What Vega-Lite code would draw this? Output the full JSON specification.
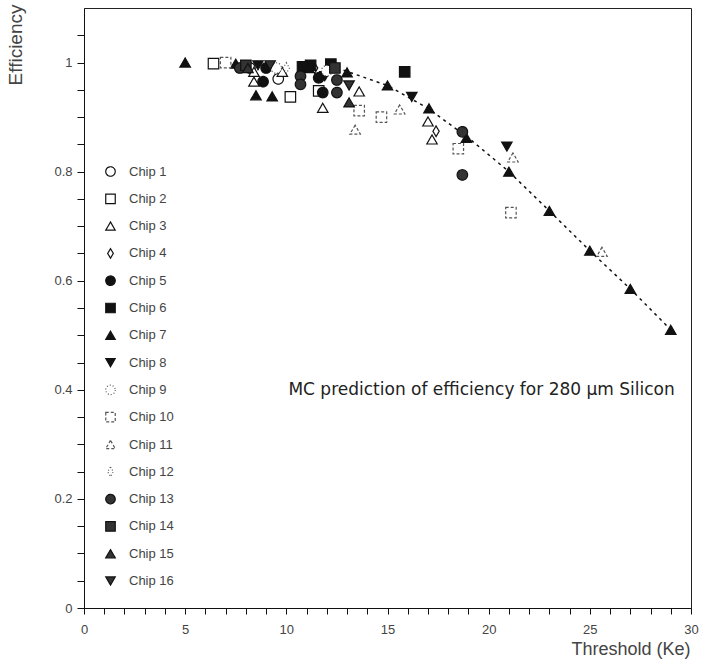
{
  "$schema": "https://vega.github.io/schema/vega-lite/v6.json",
  "width": 607,
  "height": 600,
  "autosize": {"type": "none"},
  "padding": {"left": 84, "top": 8, "right": 10, "bottom": 55},
  "background": "white",
  "config": {
    "view": {"stroke": "#222", "strokeWidth": 1},
    "font": "Liberation Sans",
    "axis": {"grid": false, "domainColor": "#111", "tickColor": "#111", "labelColor": "#444", "labelFontSize": 13, "titleColor": "#444", "titleFontWeight": "normal", "titleFontSize": 18, "labelOverlap": false}
  },
  "datasets": {
    "pts": [
      {"chip": "Chip 1", "threshold": 9.6, "efficiency": 0.97},
      {"chip": "Chip 1", "threshold": 8.2, "efficiency": 0.99},
      {"chip": "Chip 2", "threshold": 6.4, "efficiency": 0.998},
      {"chip": "Chip 2", "threshold": 10.2, "efficiency": 0.937},
      {"chip": "Chip 2", "threshold": 11.6, "efficiency": 0.948},
      {"chip": "Chip 3", "threshold": 8.4, "efficiency": 0.983},
      {"chip": "Chip 3", "threshold": 8.4, "efficiency": 0.965},
      {"chip": "Chip 3", "threshold": 9.8, "efficiency": 0.983},
      {"chip": "Chip 3", "threshold": 11.8, "efficiency": 0.917},
      {"chip": "Chip 3", "threshold": 13.6, "efficiency": 0.947},
      {"chip": "Chip 3", "threshold": 17.0, "efficiency": 0.892},
      {"chip": "Chip 3", "threshold": 17.2, "efficiency": 0.859},
      {"chip": "Chip 4", "threshold": 17.4, "efficiency": 0.874},
      {"chip": "Chip 4", "threshold": 11.4, "efficiency": 0.99},
      {"chip": "Chip 5", "threshold": 8.85, "efficiency": 0.965},
      {"chip": "Chip 5", "threshold": 11.8, "efficiency": 0.945},
      {"chip": "Chip 5", "threshold": 11.6, "efficiency": 0.972},
      {"chip": "Chip 5", "threshold": 9.0, "efficiency": 0.99},
      {"chip": "Chip 6", "threshold": 15.85, "efficiency": 0.983},
      {"chip": "Chip 6", "threshold": 11.2, "efficiency": 0.995},
      {"chip": "Chip 6", "threshold": 12.2, "efficiency": 0.997},
      {"chip": "Chip 6", "threshold": 10.8, "efficiency": 0.992},
      {"chip": "Chip 7", "threshold": 5.0, "efficiency": 1.0},
      {"chip": "Chip 7", "threshold": 7.5, "efficiency": 0.998},
      {"chip": "Chip 7", "threshold": 8.5, "efficiency": 0.94},
      {"chip": "Chip 7", "threshold": 9.3, "efficiency": 0.938},
      {"chip": "Chip 7", "threshold": 11.1, "efficiency": 0.99},
      {"chip": "Chip 7", "threshold": 13.0, "efficiency": 0.982},
      {"chip": "Chip 7", "threshold": 15.0, "efficiency": 0.958},
      {"chip": "Chip 7", "threshold": 17.05, "efficiency": 0.916},
      {"chip": "Chip 7", "threshold": 18.9, "efficiency": 0.862},
      {"chip": "Chip 7", "threshold": 21.0, "efficiency": 0.8},
      {"chip": "Chip 7", "threshold": 23.0, "efficiency": 0.728},
      {"chip": "Chip 7", "threshold": 25.0, "efficiency": 0.655},
      {"chip": "Chip 7", "threshold": 27.0, "efficiency": 0.585},
      {"chip": "Chip 7", "threshold": 29.0, "efficiency": 0.51},
      {"chip": "Chip 8", "threshold": 16.2, "efficiency": 0.937},
      {"chip": "Chip 8", "threshold": 20.9, "efficiency": 0.846},
      {"chip": "Chip 8", "threshold": 11.9, "efficiency": 0.975},
      {"chip": "Chip 8", "threshold": 8.6, "efficiency": 0.995},
      {"chip": "Chip 9", "threshold": 9.5, "efficiency": 0.99},
      {"chip": "Chip 9", "threshold": 12.0, "efficiency": 0.985},
      {"chip": "Chip 10", "threshold": 7.0, "efficiency": 1.0},
      {"chip": "Chip 10", "threshold": 13.6, "efficiency": 0.912},
      {"chip": "Chip 10", "threshold": 14.7, "efficiency": 0.9},
      {"chip": "Chip 10", "threshold": 18.5, "efficiency": 0.842},
      {"chip": "Chip 10", "threshold": 21.1, "efficiency": 0.725},
      {"chip": "Chip 11", "threshold": 13.4, "efficiency": 0.877},
      {"chip": "Chip 11", "threshold": 15.6, "efficiency": 0.914},
      {"chip": "Chip 11", "threshold": 21.2, "efficiency": 0.826},
      {"chip": "Chip 11", "threshold": 25.6, "efficiency": 0.653},
      {"chip": "Chip 12", "threshold": 10.0, "efficiency": 0.99},
      {"chip": "Chip 13", "threshold": 10.7, "efficiency": 0.975},
      {"chip": "Chip 13", "threshold": 10.7, "efficiency": 0.96},
      {"chip": "Chip 13", "threshold": 12.5, "efficiency": 0.968},
      {"chip": "Chip 13", "threshold": 12.5, "efficiency": 0.945},
      {"chip": "Chip 13", "threshold": 18.7, "efficiency": 0.873},
      {"chip": "Chip 13", "threshold": 18.7, "efficiency": 0.794},
      {"chip": "Chip 13", "threshold": 7.7, "efficiency": 0.99},
      {"chip": "Chip 14", "threshold": 8.0, "efficiency": 0.995},
      {"chip": "Chip 14", "threshold": 12.4, "efficiency": 0.99},
      {"chip": "Chip 15", "threshold": 13.1, "efficiency": 0.927},
      {"chip": "Chip 15", "threshold": 8.1, "efficiency": 0.99},
      {"chip": "Chip 16", "threshold": 13.1, "efficiency": 0.958},
      {"chip": "Chip 16", "threshold": 9.2, "efficiency": 0.995}
    ],
    "mc": [
      {"threshold": 12.5, "efficiency": 0.99},
      {"threshold": 15.0, "efficiency": 0.958},
      {"threshold": 17.0, "efficiency": 0.916},
      {"threshold": 19.0, "efficiency": 0.862},
      {"threshold": 21.0, "efficiency": 0.8},
      {"threshold": 23.0, "efficiency": 0.728},
      {"threshold": 25.0, "efficiency": 0.655},
      {"threshold": 27.0, "efficiency": 0.585},
      {"threshold": 29.0, "efficiency": 0.51}
    ],
    "note": [
      {"threshold": 19.65, "efficiency": 0.4, "label": "MC prediction of efficiency for 280 μm Silicon"}
    ]
  },
  "layer": [
    {
      "mark": {"type": "rule", "color": "#111", "strokeWidth": 1.2},
      "encoding": {"y": {"datum": 1, "type": "quantitative", "scale": {"domain": [0, 1.1], "nice": false, "zero": false}}}
    },
    {
      "data": {"name": "mc"},
      "mark": {"type": "line", "color": "#111", "strokeWidth": 1.5, "strokeDash": [3, 4]},
      "encoding": {
        "x": {"field": "threshold", "type": "quantitative"},
        "y": {"field": "efficiency", "type": "quantitative"}
      }
    },
    {
      "data": {"name": "pts"},
      "mark": {"type": "point", "filled": true, "opacity": 1, "strokeWidth": 1.2, "size": 110},
      "encoding": {
        "x": {
          "field": "threshold", "type": "quantitative",
          "scale": {"domain": [0, 30], "nice": false, "zero": false},
          "axis": {
            "title": "Threshold (Ke)",
            "values": [0,1,2,3,4,5,6,7,8,9,10,11,12,13,14,15,16,17,18,19,20,21,22,23,24,25,26,27,28,29,30],
            "tickCount": 40,
            "labelExpr": "datum.value % 5 === 0 ? format(datum.value, 'd') : ''",
            "labelOverlap": false, "labelBound": false, "labelFlush": false,
            "tickSize": 6, "labelPadding": 9,
            "titleAnchor": "end", "titleAlign": "right", "titleX": 606, "titleY": 46, "titleBaseline": "alphabetic"
          }
        },
        "y": {
          "field": "efficiency", "type": "quantitative",
          "scale": {"domain": [0, 1.1], "nice": false, "zero": false},
          "axis": {
            "title": "Efficiency",
            "values": [0,0.05,0.1,0.15,0.2,0.25,0.3,0.35,0.4,0.45,0.5,0.55,0.6,0.65,0.7,0.75,0.8,0.85,0.9,0.95,1,1.05],
            "tickCount": 30,
            "labelExpr": "abs(datum.value*5 - round(datum.value*5)) < 0.001 && datum.value < 1.01 ? format(datum.value, '~g') : ''",
            "labelOverlap": false,
            "tickSize": 7, "labelPadding": 5,
            "titleAnchor": "end", "titleX": -69, "titleY": -4, "titleAlign": "right", "titleAngle": -90, "titleBaseline": "middle", "titleFontSize": 19
          }
        },
        "shape": {
          "field": "chip", "type": "nominal",
          "scale": {
            "domain": ["Chip 1","Chip 2","Chip 3","Chip 4","Chip 5","Chip 6","Chip 7","Chip 8","Chip 9","Chip 10","Chip 11","Chip 12","Chip 13","Chip 14","Chip 15","Chip 16"],
            "range": ["circle","square","triangle-up","M0,-1L0.6,0L0,1L-0.6,0Z","circle","square","triangle-up","triangle-down","circle","square","triangle-up","M0,-1L0.6,0L0,1L-0.6,0Z","circle","square","triangle-up","triangle-down"]
          },
          "legend": {
            "title": null, "orient": "none", "legendX": 20, "legendY": 157,
            "rowPadding": 12.3, "labelFontSize": 13, "labelColor": "#444", "symbolSize": 90,
            "labelOffset": 12, "symbolStrokeWidth": 1.2
          }
        },
        "stroke": {
          "field": "chip", "type": "nominal",
          "scale": {
            "domain": ["Chip 1","Chip 2","Chip 3","Chip 4","Chip 5","Chip 6","Chip 7","Chip 8","Chip 9","Chip 10","Chip 11","Chip 12","Chip 13","Chip 14","Chip 15","Chip 16"],
            "range": ["#111","#111","#111","#111","#111","#111","#111","#111","#555","#555","#555","#555","#111","#111","#111","#111"]
          },
          "legend": {"title": null}
        },
        "fill": {
          "field": "chip", "type": "nominal",
          "scale": {
            "domain": ["Chip 1","Chip 2","Chip 3","Chip 4","Chip 5","Chip 6","Chip 7","Chip 8","Chip 9","Chip 10","Chip 11","Chip 12","Chip 13","Chip 14","Chip 15","Chip 16"],
            "range": ["white","white","white","white","#111","#111","#111","#111","white","white","white","white","#333","#333","#333","#333"]
          },
          "legend": {"title": null}
        },
        "strokeDash": {
          "field": "chip", "type": "nominal",
          "scale": {
            "domain": ["Chip 1","Chip 2","Chip 3","Chip 4","Chip 5","Chip 6","Chip 7","Chip 8","Chip 9","Chip 10","Chip 11","Chip 12","Chip 13","Chip 14","Chip 15","Chip 16"],
            "range": [[1,0],[1,0],[1,0],[1,0],[1,0],[1,0],[1,0],[1,0],[1,2],[3,2],[3,2],[1,2],[1,0],[1,0],[1,0],[1,0]]
          },
          "legend": {"title": null}
        }
      }
    },
    {
      "data": {"name": "note"},
      "mark": {"type": "text", "fontSize": 17, "font": "DejaVu Sans", "color": "#222", "align": "center", "baseline": "middle"},
      "encoding": {
        "x": {"field": "threshold", "type": "quantitative"},
        "y": {"field": "efficiency", "type": "quantitative"},
        "text": {"field": "label"}
      }
    }
  ]
}
